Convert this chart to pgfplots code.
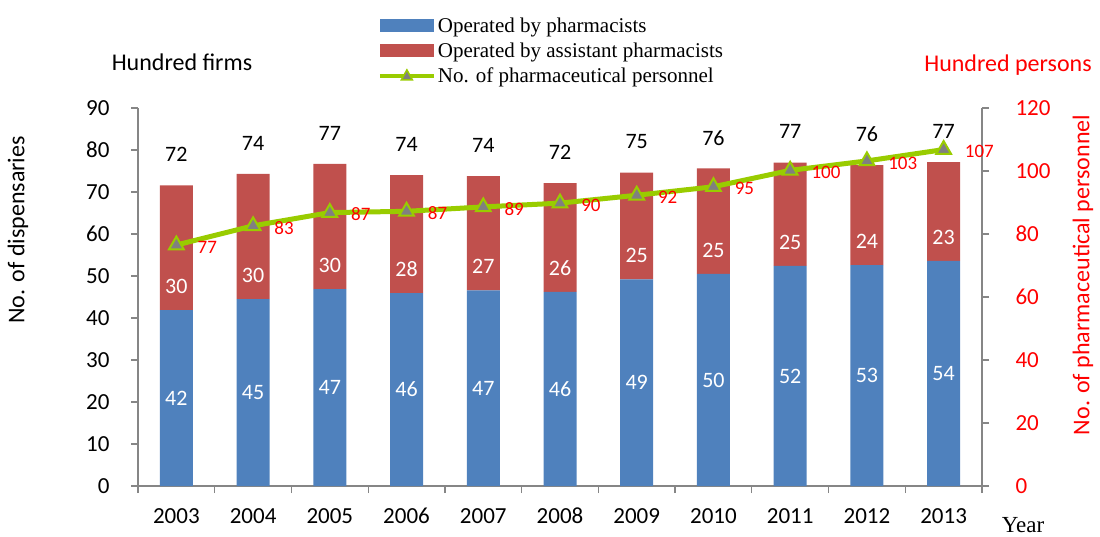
\documentclass[border=0pt]{standalone}
\usepackage{pgfplots}
\pgfplotsset{compat=1.18}
\usepackage{pgfplotstable}
\usepackage{fontspec}
\setmainfont{Carlito}
\newfontfamily\tnr{Liberation Serif}

\definecolor{cblue}{RGB}{79,129,189}
\definecolor{cred}{RGB}{192,80,77}
\definecolor{cgreen}{RGB}{153,204,0}
\definecolor{cgray}{RGB}{134,134,134}
\definecolor{mgray}{RGB}{128,128,128}
\definecolor{tred}{RGB}{255,0,0}

\pgfplotstableread{
x blue red tot bl rl tl bpos rpos tpos person pl
0 41.9 29.7 71.6 42 30 72 20.95 47.6 78.9 76.5 77
1 44.5 29.8 74.3 45 30 74 22.25 50.2 81.6 82.6 83
2 46.9 29.8 76.7 47 30 77 23.45 52.6 84.0 86.8 87
3 45.9 28.1 74.0 46 28 74 22.95 51.6 81.3 87.2 87
4 46.6 27.2 73.8 47 27 74 23.30 52.3 81.1 88.6 89
5 46.2 25.9 72.1 46 26 72 23.10 51.9 79.4 89.8 90
6 49.2 25.4 74.6 49 25 75 24.60 54.9 81.9 92.3 92
7 50.5 25.1 75.6 50 25 76 25.25 56.2 82.9 95.0 95
8 52.4 24.6 77.0 52 25 77 26.20 58.1 84.3 100.2 100
9 52.6 23.8 76.4 53 24 76 26.30 58.3 83.7 103.2 103
10 53.6 23.5 77.1 54 23 77 26.80 59.3 84.4 106.8 107
}\data

\begin{document}
\begin{tikzpicture}
\useasboundingbox (0,0) rectangle (1100pt,536pt);
\pgfplotsset{
  base/.style={at={(138pt,50pt)}, anchor=south west, scale only axis,
    width=844pt, height=378pt, xmin=-0.5, xmax=10.5,
    /pgf/number format/assume math mode=true,
    tick label style={font=\fontsize{23}{27}\selectfont},
    axis line style={cgray, line width=1.2pt},
    tick style={cgray, line width=1.2pt},
    tick align=outside, major tick length=7pt, minor tick length=7pt},
}
% bars
\begin{axis}[base, ybar stacked, bar width=33pt, ymin=0, ymax=90,
  ytick={0,10,...,90},
  axis x line*=bottom, axis y line*=left,
  xtick={0,...,10},
  xticklabels={2003,2004,2005,2006,2007,2008,2009,2010,2011,2012,2013},
  major x tick style={draw=none},
  minor xtick={-0.5,0.5,...,10.5},
  xticklabel style={yshift=-12pt, text height=15pt, text depth=0pt},
  yticklabel style={xshift=-18pt},
  legend style={at={(0.284,1.245)}, anchor=north west, draw=none, fill=none,
    font=\tnr\fontsize{21}{24}\selectfont, row sep=5pt, inner sep=0pt},
  legend cell align=left,
]
\addplot[fill=cblue, draw=none,
  legend image code/.code={\fill[cblue] (0pt,-6.5pt) rectangle (54pt,6.5pt);}]
  table[x=x, y=blue] {\data};
\addlegendentry{Operated by pharmacists}
\addplot[fill=cred, draw=none,
  legend image code/.code={\fill[cred] (0pt,-6.5pt) rectangle (54pt,6.5pt);}]
  table[x=x, y=red] {\data};
\addlegendentry{Operated by assistant pharmacists}
\addlegendimage{legend image code/.code={
  \draw[cgreen, line width=4pt] (0pt,0pt) -- (54pt,0pt);
  \draw[cgreen, fill=mgray, line width=1.5pt] (27pt,6pt) -- (21.5pt,-4pt) -- (32.5pt,-4pt) -- cycle;}}
\addlegendentry{No. of pharmaceutical personnel}
\end{axis}
% labels on bars
\begin{axis}[base, ymin=0, ymax=90, hide axis]
\addplot[draw=none, nodes near coords, point meta=explicit symbolic,
  nodes near coords align={center},
  every node near coord/.append style={white, font=\fontsize{22}{26}\selectfont}]
  table[x=x, y=bpos, meta=bl] {\data};
\addplot[draw=none, nodes near coords, point meta=explicit symbolic,
  nodes near coords align={center},
  every node near coord/.append style={white, font=\fontsize{22}{26}\selectfont}]
  table[x=x, y=rpos, meta=rl] {\data};
\addplot[draw=none, nodes near coords, point meta=explicit symbolic,
  nodes near coords align={center},
  every node near coord/.append style={black, font=\fontsize{22}{26}\selectfont}]
  table[x=x, y=tpos, meta=tl] {\data};
\end{axis}
% line on right axis
\begin{axis}[base, ymin=0, ymax=120, ytick={0,20,...,120},
  axis y line*=right, axis x line=none,
  yticklabel style={tred, xshift=23pt}]
\addplot[cgreen, line width=5pt, mark=triangle*, mark size=8.5pt,
  mark options={fill=mgray, draw=cgreen, line width=2pt},
  nodes near coords, point meta=explicit symbolic,
  nodes near coords align={west},
  every node near coord/.append style={tred, xshift=17pt, yshift=-2pt,
    font=\fontsize{19}{22}\selectfont}]
  table[x=x, y=person, meta=pl] {\data};
\end{axis}
\node[font=\fontsize{24}{28}\selectfont] at (182pt,474pt) {Hundred firms};
\node[font=\fontsize{24}{28}\selectfont, text=tred] at (1008pt,471pt) {Hundred persons};
\node[rotate=90, font=\fontsize{24}{28}\selectfont] at (18pt,306pt) {No. of dispensaries};
\node[rotate=90, font=\fontsize{24}{28}\selectfont, text=tred] at (1083pt,261pt) {No. of pharmaceutical personnel};
\node[font=\tnr\fontsize{23}{27}\selectfont] at (1023pt,11pt) {Year};
\end{tikzpicture}
\end{document}
